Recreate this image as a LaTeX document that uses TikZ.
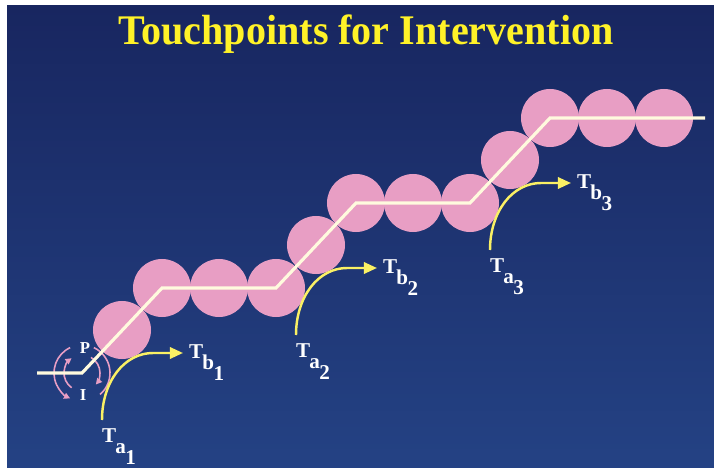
\documentclass[tikz,border=0pt]{standalone}
\usepackage{fontspec}
\setmainfont{Liberation Serif}
\usetikzlibrary{positioning,arrows.meta,calc}

\definecolor{navytop}{RGB}{24,38,96}
\definecolor{navybot}{RGB}{36,66,132}
\definecolor{beadpink}{RGB}{232,158,196}
\definecolor{pathcream}{RGB}{255,250,222}
\definecolor{touchyel}{RGB}{250,240,100}
\definecolor{titleyel}{RGB}{255,242,40}

% T with stacked subscripts
\newcommand{\tlab}[2]{T\kern-1pt\raisebox{-12.5pt}{#1\kern-.5pt\raisebox{-12pt}{#2}}}

\begin{document}
\begin{tikzpicture}[
    x=0.04cm, y=0.04cm,
    bead/.style={circle, fill=beadpink, minimum size=2.32cm, inner sep=0pt},
    track/.style={draw=pathcream, line width=3.6pt, line join=miter},
    touch/.style={draw=touchyel, line width=2.8pt, -{Triangle[length=15pt,width=13pt]}},
    cycarrow/.style={draw=beadpink, line width=1.8pt},
    cyctip/.style={cycarrow, -{Triangle[length=7pt,width=7pt]}},
    tlabel/.style={text=white, font=\fontsize{24}{24}\selectfont\bfseries, inner sep=0pt},
    pilabel/.style={text=white, font=\fontsize{19}{19}\selectfont\bfseries, inner sep=0pt}
]

% ============================================================
% TLO
% ============================================================
\useasboundingbox (0,0) rectangle (714,468);
\fill[white] (0,0) rectangle (714,468);
\shade[top color=navytop, bottom color=navybot] (7,0) rectangle (714,462);

\node[text=titleyel, font=\fontsize{48}{48}\selectfont\bfseries,
      anchor=base, xscale=.95] (title) at (366,423) {Touchpoints for Intervention};

% ============================================================
% CYKL P / I
% ============================================================
\coordinate (c0) at (82,95);
\node[pilabel] (p) at ($(c0)+(3,25)$) {P};
\node[pilabel] (i) at ($(c0)+(1,-22)$) {I};

\draw[cyctip] ($(c0)+(115:1.12cm)$) arc[start angle=115, end angle=245, radius=1.12cm];
\draw[cyctip] ($(c0)+(235:0.72cm)$) arc[start angle=235, end angle=125, radius=0.72cm];
\draw[cyctip] ($(c0)+(60:0.72cm)$) arc[start angle=60, end angle=-40, radius=0.72cm];
\draw[cycarrow] ($(c0)+(-50:1.12cm)$) arc[start angle=-50, end angle=65, radius=1.12cm];

% ============================================================
% SCIEZKA Z KOLAMI
% ============================================================
\foreach \i in {0,1,2} {
    \coordinate (c\i) at ({82+194*\i},{95+85*\i});
    \node[bead] (b\i-1) at ($(c\i)+(40,43)$) {};
    \node[bead] (b\i-2) at ($(c\i)+(80,85)$) {};
    \node[bead] (b\i-3) at ($(c\i)+(137,85)$) {};
    \node[bead] (b\i-4) at ($(c\i)+(194,85)$) {};
}
\coordinate (start) at (37,95);
\coordinate (end) at (705,350);

\draw[track] (start) -- (c0) -- (b0-2.center) -- (b0-4.center)
    -- (b1-2.center) -- (b1-4.center) -- (b2-2.center) -- (end);

% ============================================================
% PUNKTY STYKU Ta -> Tb
% ============================================================
\foreach \i [evaluate=\i as \n using int(\i+1)] in {0,1,2} {
    \coordinate (ta\i) at ({102+194*\i},{48+85*\i});
    \coordinate (tb\i) at ({183+194*\i},{115+85*\i});
    \draw[touch] (ta\i) .. controls +(0,38) and +(-29,0) .. ($(ta\i)+(51,67)$) -- (tb\i);
    \node[tlabel, anchor=base west] (la\i) at ($(ta\i)+(0,-23)$) {\tlab{a}{\n}};
    \node[tlabel, anchor=base west] (lb\i) at ($(tb\i)+(6,-6)$) {\tlab{b}{\n}};
}

\end{tikzpicture}
\end{document}
